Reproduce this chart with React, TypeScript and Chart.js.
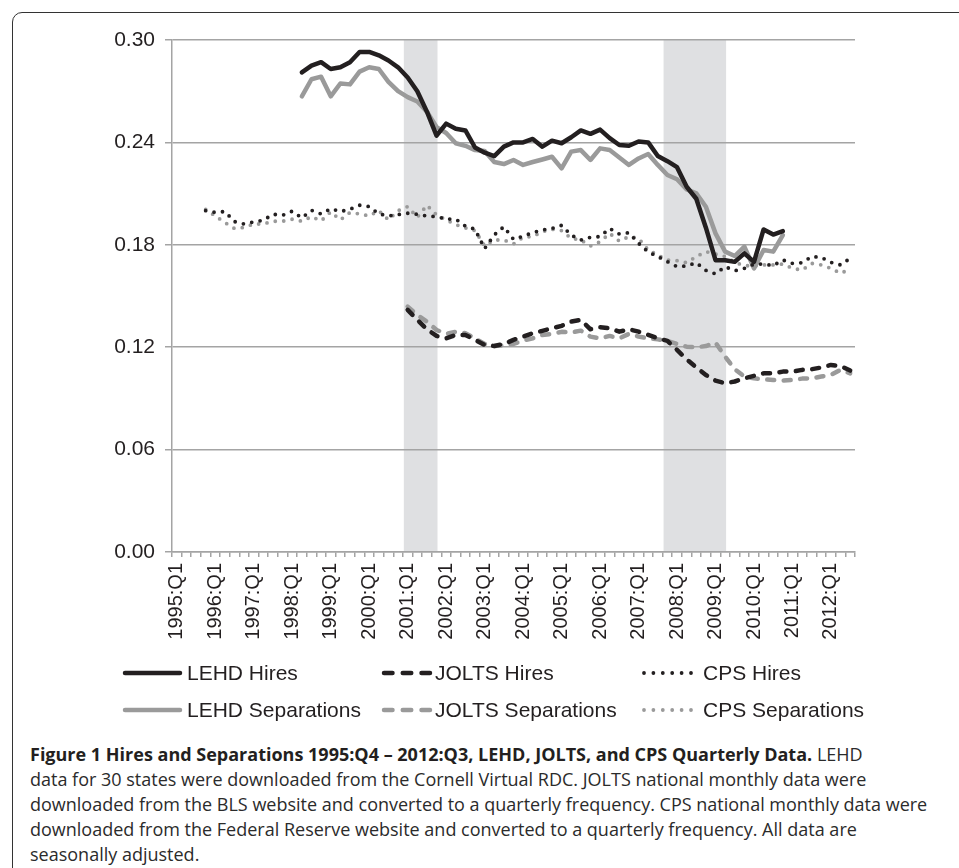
import React, { useEffect, useRef } from 'react';
import { Chart, registerables } from 'chart.js';

Chart.register(...registerables);

// ---------- DATA ----------
const YEARS = [1995, 1996, 1997, 1998, 1999, 2000, 2001, 2002, 2003, 2004, 2005, 2006, 2007, 2008, 2009, 2010, 2011, 2012];
const QUARTER_NAMES = ['Q1', 'Q2', 'Q3', 'Q4'];
// 1995:Q1 ... 2012:Q3
const CATEGORIES = YEARS.flatMap((y) => QUARTER_NAMES.map((q) => `${y}:${q}`)).slice(0, 71);

const Y_TICKS = [0, 0.06, 0.12, 0.18, 0.24, 0.3];

const LEHD_START = '1998:Q2';
const LEHD_HIRES = [
  0.281, 0.285, 0.287, 0.283, 0.284, 0.287, 0.293, 0.293, 0.291, 0.288,
  0.284, 0.278, 0.270, 0.258, 0.244, 0.251, 0.248, 0.247, 0.237, 0.234,
  0.232, 0.2375, 0.240, 0.240, 0.242, 0.2375, 0.241, 0.2395, 0.243, 0.247,
  0.245, 0.2475, 0.2425, 0.2385, 0.238, 0.2405, 0.240, 0.232, 0.229, 0.2255,
  0.214, 0.207, 0.190, 0.171, 0.171, 0.170, 0.175, 0.170, 0.189, 0.186,
  0.188,
];
const LEHD_SEPARATIONS = [
  0.267, 0.277, 0.2785, 0.267, 0.2745, 0.274, 0.2815, 0.284, 0.283, 0.2755,
  0.270, 0.2665, 0.264, 0.258, 0.249, 0.2455, 0.2395, 0.238, 0.2355, 0.235,
  0.2285, 0.2273, 0.2297, 0.2268, 0.2285, 0.230, 0.2316, 0.2248, 0.2346, 0.2355,
  0.2297, 0.2365, 0.2355, 0.2312, 0.2268, 0.2306, 0.2332, 0.2268, 0.2209, 0.2184,
  0.2125, 0.2102, 0.2023, 0.1867, 0.176, 0.1734, 0.1789, 0.1662, 0.177, 0.176,
  0.1857,
];

const JOLTS_START = '2001:Q1';
const JOLTS_HIRES = [
  0.1419, 0.1360, 0.1305, 0.1266, 0.1252, 0.1272, 0.1272, 0.1243, 0.1213, 0.1207,
  0.1219, 0.1243, 0.1262, 0.1282, 0.1296, 0.1311, 0.1325, 0.1350, 0.1360, 0.1305,
  0.1317, 0.1311, 0.1291, 0.1305, 0.1291, 0.1272, 0.1252, 0.1237, 0.1184, 0.1129,
  0.1082, 0.1037, 0.1004, 0.0989, 0.0999, 0.1018, 0.1032, 0.1047, 0.1047, 0.1057,
  0.1057, 0.1067, 0.1071, 0.1081, 0.1096, 0.1090, 0.1063,
];
const JOLTS_SEPARATIONS = [
  0.1438, 0.1389, 0.1350, 0.1301, 0.1278, 0.1290, 0.1282, 0.1252, 0.1219, 0.1207,
  0.1211, 0.1219, 0.1239, 0.1252, 0.1272, 0.1278, 0.1290, 0.1286, 0.1297, 0.1262,
  0.1252, 0.1266, 0.1252, 0.1278, 0.1262, 0.1252, 0.1246, 0.1237, 0.1219, 0.1203,
  0.1199, 0.1207, 0.1227, 0.1145, 0.1071, 0.1028, 0.1018, 0.1012, 0.1008, 0.1004,
  0.1008, 0.1016, 0.1018, 0.1028, 0.1038, 0.1067, 0.1047,
];

const CPS_START = '1995:Q4';
const CPS_HIRES = [
  0.2000, 0.1990, 0.1995, 0.1936, 0.1922, 0.1934, 0.1944, 0.1979, 0.1973, 0.1997,
  0.1958, 0.2002, 0.1981, 0.2012, 0.1995, 0.2008, 0.2032, 0.2024, 0.1981, 0.1969,
  0.1977, 0.1985, 0.1979, 0.1969, 0.1965, 0.1951, 0.1950, 0.1910, 0.1891, 0.1778,
  0.1858, 0.1906, 0.1832, 0.1851, 0.1871, 0.1887, 0.1896, 0.1914, 0.1857, 0.1828,
  0.1844, 0.1848, 0.1896, 0.1863, 0.1871, 0.1809, 0.1758, 0.1731, 0.1701, 0.1672,
  0.1676, 0.1695, 0.1650, 0.1630, 0.1672, 0.1648, 0.1662, 0.1687, 0.1687, 0.1678,
  0.1711, 0.1691, 0.1695, 0.1731, 0.1726, 0.1697, 0.1682, 0.1721,
];
const CPS_SEPARATIONS = [
  0.2008, 0.1969, 0.1930, 0.1895, 0.1902, 0.1922, 0.1922, 0.1938, 0.1938, 0.1950,
  0.1938, 0.1965, 0.1940, 0.1993, 0.1946, 0.1989, 0.1981, 0.1969, 0.2000, 0.1946,
  0.2000, 0.2024, 0.1961, 0.2032, 0.1975, 0.1946, 0.1918, 0.1899, 0.1883, 0.1793,
  0.1828, 0.1828, 0.1805, 0.1844, 0.1848, 0.1877, 0.1891, 0.1883, 0.1838, 0.1828,
  0.1793, 0.1818, 0.1867, 0.1822, 0.1848, 0.1838, 0.1770, 0.1740, 0.1711, 0.1707,
  0.1695, 0.1731, 0.1760, 0.1746, 0.1731, 0.1697, 0.1678, 0.1676, 0.1682, 0.1682,
  0.1687, 0.1662, 0.1652, 0.1691, 0.1682, 0.1662, 0.1633, 0.1658,
];

const RECESSION_START = ['2001:Q1', '2007:Q4'];
const RECESSION_END = ['2001:Q4', '2009:Q2'];

// ---------- STYLE ----------
const BLACK = '#231f20';
const GRAY = '#9a9a9a';
const GRID = '#a4a4a4';
const SHADE = '#dfe0e2';
const FONT = '"Liberation Sans", Arial, Helvetica, sans-serif';

const align = (start: string, values: number[]) => {
  const s = CATEGORIES.indexOf(start);
  return CATEGORIES.map((_, i) => (i >= s && i - s < values.length ? values[i - s] : null));
};

const DASHED = [7, 9.5];
const DOTTED = [0, 8.5];

const shadePlugin = {
  id: 'recessionShade',
  beforeDraw(chart: any) {
    const { ctx, chartArea, scales } = chart;
    const x = scales.x;
    const w = x.getPixelForValue(1) - x.getPixelForValue(0);
    ctx.save();
    ctx.fillStyle = SHADE;
    RECESSION_START.forEach((s, k) => {
      const a = x.getPixelForValue(CATEGORIES.indexOf(s)) - 0.4 * w;
      const b = x.getPixelForValue(CATEGORIES.indexOf(RECESSION_END[k])) + 0.1 * w;
      ctx.fillRect(a, chartArea.top, b - a, chartArea.bottom - chartArea.top);
    });
    ctx.restore();
  },
};

const LEGEND_ROWS_Y = [673, 710];
const LEGEND_COLS = [
  { x0: 125, x1: 180, tx: 187, dash: [] as number[] },
  { x0: 384, x1: 430, tx: 435, dash: [8.5, 10.25] },
  { x0: 644, x1: 691, tx: 703, dash: [0, 9.4] },
];

const legendPlugin = {
  id: 'gridLegend',
  afterDraw(chart: any) {
    const { ctx } = chart;
    ctx.save();
    chart.data.datasets.forEach((ds: any, i: number) => {
      const row = Math.floor(i / 3);
      const col = LEGEND_COLS[i % 3];
      const y = LEGEND_ROWS_Y[row];
      ctx.beginPath();
      ctx.strokeStyle = ds.borderColor;
      ctx.lineWidth = ds.borderWidth;
      ctx.lineCap = 'round';
      ctx.setLineDash(col.dash);
      ctx.moveTo(col.x0, y);
      ctx.lineTo(col.x1, y);
      ctx.stroke();
      ctx.setLineDash([]);
      ctx.fillStyle = BLACK;
      ctx.font = `21px ${FONT}`;
      ctx.textAlign = 'left';
      ctx.textBaseline = 'middle';
      ctx.fillText(ds.label, col.tx, y + 1);
    });
    ctx.restore();
  },
};

export default function App() {
  const canvasRef = useRef<HTMLCanvasElement | null>(null);

  useEffect(() => {
    const canvas = canvasRef.current;
    if (!canvas) return;
    const line = (label: string, data: (number | null)[], color: string, width: number, dash: number[]) => ({
      label,
      data,
      borderColor: color,
      backgroundColor: color,
      borderWidth: width,
      borderDash: dash,
      borderCapStyle: 'round',
      borderJoinStyle: 'round',
      pointRadius: 0,
      pointHoverRadius: 0,
      tension: 0,
      fill: false,
      spanGaps: false,
    });
    const chart = new Chart(canvas, {
      type: 'line',
      data: {
        labels: CATEGORIES,
        datasets: [
          line('LEHD Hires', align(LEHD_START, LEHD_HIRES), BLACK, 4.5, []),
          line('JOLTS Hires', align(JOLTS_START, JOLTS_HIRES), BLACK, 4.5, DASHED),
          line('CPS Hires', align(CPS_START, CPS_HIRES), BLACK, 3.8, DOTTED),
          line('LEHD Separations', align(LEHD_START, LEHD_SEPARATIONS), GRAY, 4.5, []),
          line('JOLTS Separations', align(JOLTS_START, JOLTS_SEPARATIONS), GRAY, 4.5, DASHED),
          line('CPS Separations', align(CPS_START, CPS_SEPARATIONS), GRAY, 3.8, DOTTED),
        ] as any,
      },
      options: {
        animation: false,
        responsive: false,
        devicePixelRatio: 1,
        layout: { padding: { left: 0, right: 104, top: 40, bottom: 78 } },
        plugins: { legend: { display: false }, tooltip: { enabled: false }, title: { display: false } },
        scales: {
          x: {
            type: 'category',
            offset: true,
            grid: {
              display: true,
              drawOnChartArea: false,
              drawTicks: true,
              tickLength: 5,
              offset: true,
              color: GRID,
              lineWidth: 1.5,
            },
            border: { display: true, color: GRID, width: 1.5 },
            ticks: {
              autoSkip: false,
              maxRotation: 90,
              minRotation: 90,
              padding: 6,
              color: BLACK,
              font: { family: FONT, size: 20 },
              callback: (_v: any, i: number) => (i % 4 === 0 ? CATEGORIES[i] : ''),
            },
            afterFit: (s: any) => {
              s.height = 100;
            },
          },
          y: {
            min: 0,
            max: 0.3,
            afterBuildTicks: (s: any) => {
              s.ticks = Y_TICKS.map((v) => ({ value: v }));
            },
            ticks: {
              padding: 10,
              color: BLACK,
              font: { family: FONT, size: 21 },
              callback: (v: any) => Number(v).toFixed(2),
            },
            grid: { color: GRID, lineWidth: 1.5, tickLength: 7, drawTicks: true },
            border: { display: true, color: GRID, width: 1.5 },
            afterFit: (s: any) => {
              s.width = 172;
            },
          },
        },
      } as any,
      plugins: [shadePlugin, legendPlugin],
    });
    return () => chart.destroy();
  }, []);

  const captionLine: React.CSSProperties = { whiteSpace: 'nowrap' };

  return (
    <div style={{ position: 'absolute', left: 0, top: 0, width: 959, height: 868, overflow: 'hidden', background: '#fff' }}>
      <div
        style={{
          position: 'absolute',
          left: 12,
          top: 12,
          width: 1100,
          height: 1100,
          border: '1.5px solid #333',
          borderRadius: 10,
          boxSizing: 'border-box',
        }}
      />
      <canvas ref={canvasRef} width={959} height={730} style={{ position: 'absolute', left: 0, top: 0, width: 959, height: 730 }} />
      <div
        style={{
          position: 'absolute',
          left: 30,
          top: 742,
          fontFamily: '"Open Sans", "Noto Sans", sans-serif',
          fontSize: 18,
          lineHeight: '25px',
          color: '#2b2b2b',
        }}
      >
        <div style={captionLine}>
          <b style={{ color: '#231f20' }}>
            Figure 1 Hires and Separations 1995:Q4 – 2012:Q3, LEHD, JOLTS, and CPS Quarterly Data.
          </b>{' '}
          LEHD
        </div>
        <div style={captionLine}>
          data for 30 states were downloaded from the Cornell Virtual RDC. JOLTS national monthly data were
        </div>
        <div style={captionLine}>
          downloaded from the BLS website and converted to a quarterly frequency. CPS national monthly data were
        </div>
        <div style={captionLine}>
          downloaded from the Federal Reserve website and converted to a quarterly frequency. All data are
        </div>
        <div style={captionLine}>seasonally adjusted.</div>
      </div>
    </div>
  );
}
